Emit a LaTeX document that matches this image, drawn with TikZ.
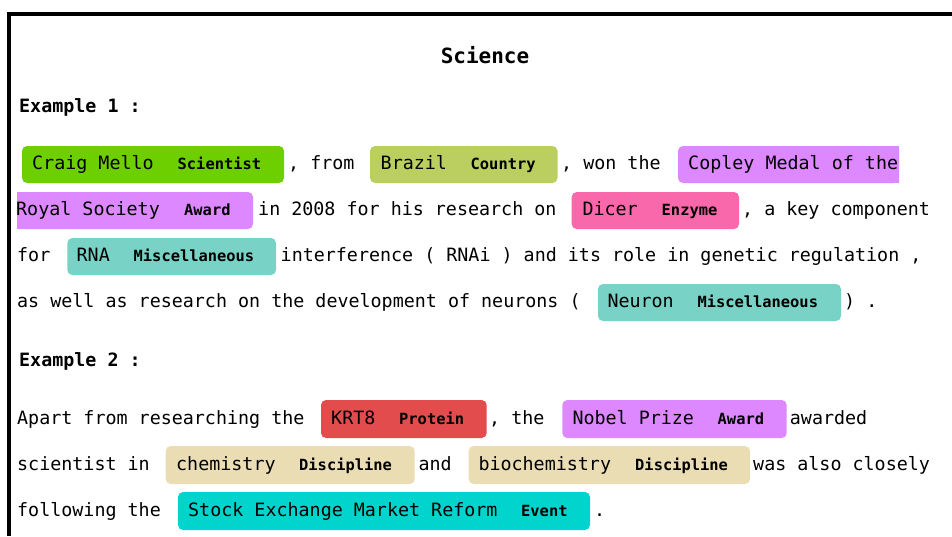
\documentclass[tikz,border=0pt]{standalone}
\usepackage{fontspec}
\setmonofont{DejaVu Sans Mono}

% entity colours
\definecolor{cScientist}{HTML}{6DCF00}
\definecolor{cCountry}{HTML}{BBCF60}
\definecolor{cAward}{HTML}{DD88FF}
\definecolor{cEnzyme}{HTML}{F868AA}
\definecolor{cMisc}{HTML}{78D2C6}
\definecolor{cProtein}{HTML}{E24C4C}
\definecolor{cDiscipline}{HTML}{EADDB3}
\definecolor{cEvent}{HTML}{00D4CC}

\tikzset{
  word/.style={anchor=base west, inner sep=0pt, font=\fontsize{18.35}{20}\selectfont\ttfamily},
  tag/.style={anchor=base west, inner sep=0pt, font=\fontsize{15.4}{18}\selectfont\ttfamily\bfseries},
  head/.style={anchor=base west, inner sep=0pt, font=\fontsize{18.35}{20}\selectfont\ttfamily\bfseries},
  chip/.style={rounded corners=5pt},
}

\begin{document}
\begin{tikzpicture}[x=1pt,y=-1pt]
\useasboundingbox (0,0) rectangle (952,536);

% frame
\fill[black] (7,12) rectangle (952,16);
\fill[black] (7,12) rectangle (11,536);

% headings
\node[anchor=base, inner sep=0pt, font=\fontsize{21}{24}\selectfont\ttfamily\bfseries] (title) at (485,63) {Science};
\node[head] (ex1) at (19,112.5) {Example 1 :};
\node[head] (ex2) at (19,366.5) {Example 2 :};

% ---------- Example 1, line 1 ----------
\fill[cScientist, chip] (22,146) rectangle (284,183);
\node[word] (e1) at (32,169.5) {Craig Mello};
\node[tag] (l1) at (177.5,169.5) {Scientist};
\node[word] (w1) at (288,169.5) {, from};
\fill[cCountry, chip] (370,146) rectangle (557.5,183);
\node[word] (e2) at (380.5,169.5) {Brazil};
\node[tag] (l2) at (470.5,169.5) {Country};
\node[word] (w2) at (561,169.5) {, won the};
\fill[cAward, chip] (678,146) rectangle (899,183);
\fill[cAward] (885,146) rectangle (899,183);
\node[word] (e3a) at (688,169.5) {Copley Medal of the};

% ---------- Example 1, line 2 ----------
\fill[cAward, chip] (17,192) rectangle (253,229);
\fill[cAward] (17,192) rectangle (30,229);
\node[word] (e3b) at (16,215.5) {Royal Society};
\node[tag] (l3) at (184,215.5) {Award};
\node[word] (w3) at (258,215.5) {in 2008 for his research on};
\fill[cEnzyme, chip] (571.7,192) rectangle (739,229);
\node[word] (e4) at (582.3,215.5) {Dicer};
\node[tag] (l4) at (661.5,215.5) {Enzyme};
\node[word] (w4) at (742,215.5) {, a key component};

% ---------- Example 1, line 3 ----------
\node[word] (w5) at (17,261.5) {for};
\fill[cMisc, chip] (67.3,238) rectangle (276,275);
\node[word] (e5) at (76.5,261.5) {RNA};
\node[tag] (l5) at (133.5,261.5) {Miscellaneous};
\node[word] (w6) at (280.5,261.5) {interference ( RNAi ) and its role in genetic regulation ,};

% ---------- Example 1, line 4 ----------
\node[word] (w7) at (17,307.5) {as well as research on the development of neurons (};
\fill[cMisc, chip] (598,284) rectangle (841,321);
\node[word] (e6) at (607.3,307.5) {Neuron};
\node[tag] (l6) at (697.3,307.5) {Miscellaneous};
\node[word] (w8) at (844,307.5) {) .};

% ---------- Example 2, line 1 ----------
\node[word] (w9) at (17,424) {Apart from researching the};
\fill[cProtein, chip] (321,400) rectangle (486.7,438);
\node[word] (e7) at (331,424) {KRT8};
\node[tag] (l7) at (399,424) {Protein};
\node[word] (w10) at (489,424) {, the};
\fill[cAward, chip] (562.3,400) rectangle (786.7,438);
\node[word] (e8) at (572.3,424) {Nobel Prize};
\node[tag] (l8) at (717.5,424) {Award};
\node[word] (w11) at (789.7,424) {awarded};

% ---------- Example 2, line 2 ----------
\node[word] (w12) at (17,470) {scientist in};
\fill[cDiscipline, chip] (165.7,446) rectangle (414.7,484);
\node[word] (e9) at (176,470) {chemistry};
\node[tag] (l9) at (299,470) {Discipline};
\node[word] (w13) at (418.3,470) {and};
\fill[cDiscipline, chip] (468.7,446) rectangle (750,484);
\node[word] (e10) at (478.3,470) {biochemistry};
\node[tag] (l10) at (635,470) {Discipline};
\node[word] (w14) at (753,470) {was also closely};

% ---------- Example 2, line 3 ----------
\node[word] (w15) at (17,516) {following the};
\fill[cEvent, chip] (178,492) rectangle (590,530);
\node[word] (e11) at (188,516) {Stock Exchange Market Reform};
\node[tag] (l11) at (521,516) {Event};
\node[word] (w16) at (594,516) {.};

\end{tikzpicture}
\end{document}
